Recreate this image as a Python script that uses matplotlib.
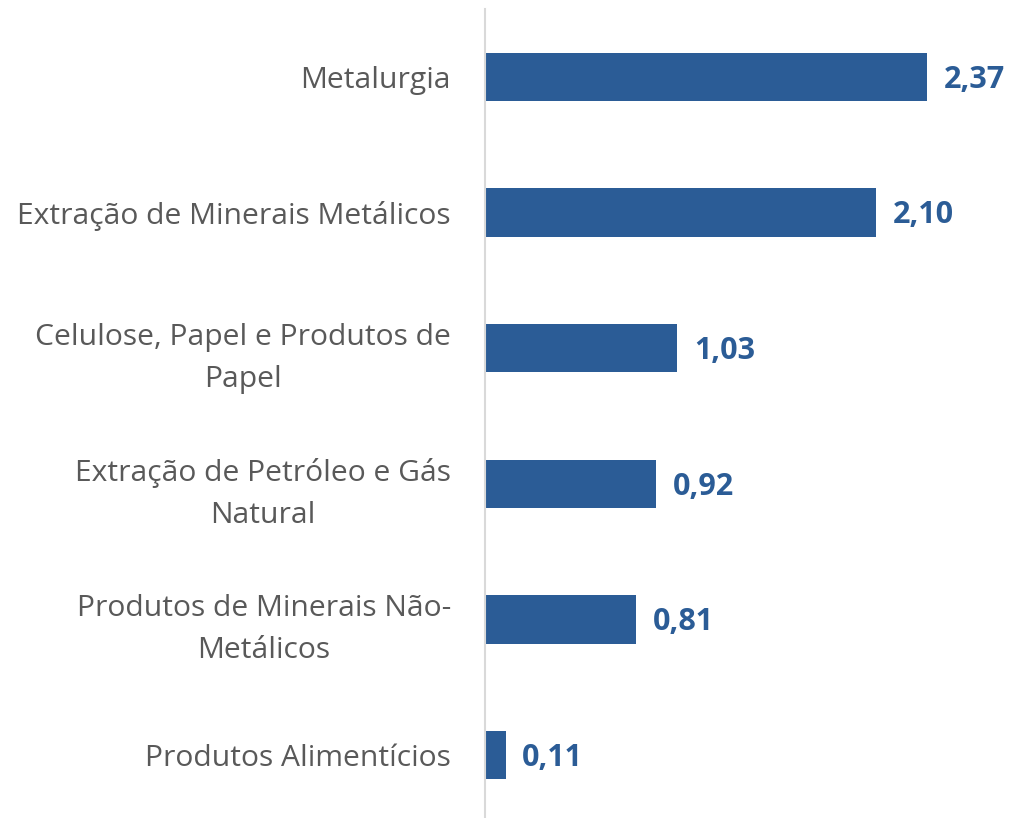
import matplotlib.pyplot as plt

plt.rcParams['font.family'] = ['Open Sans', 'DejaVu Sans']

# sectors, top to bottom
setores = ['Metalurgia',
           'Extração de Minerais Metálicos',
           'Celulose, Papel e Produtos de\nPapel',
           'Extração de Petróleo e Gás\nNatural',
           'Produtos de Minerais Não-\nMetálicos',
           'Produtos Alimentícios']
valores = [2.37, 2.10, 1.03, 0.92, 0.81, 0.11]
rotulos = ['2,37', '2,10', '1,03', '0,92', '0,81', '0,11']

azul = '#2B5C96'

fig = plt.figure(figsize=(10.15, 8.18), dpi=100)
ax = fig.add_axes([485/1015, -5/818, 530/1015, 814/818])

pos = list(range(len(setores)))
ax.barh(pos, valores, height=0.355, color=azul)
ax.set_ylim(len(setores) - 0.5, -0.5)
ax.set_xlim(0, 530/186.4)

for p, v, r in zip(pos, valores, rotulos):
    ax.text(v + 0.09, p + 0.02, r, va='center', ha='left', color=azul,
            fontsize=22, fontweight='bold')

ax.set_yticks(pos)
ax.set_yticklabels(setores, fontsize=21.6, color='#595959',
                   multialignment='center', linespacing=1.6)
ax.tick_params(axis='y', length=0, pad=24.5)
ax.set_xticks([])

for s in ['top', 'right', 'bottom']:
    ax.spines[s].set_visible(False)
ax.spines['left'].set_color('#D9D9D9')
ax.spines['left'].set_linewidth(1.5)

fig.savefig('out.png', dpi=100)
